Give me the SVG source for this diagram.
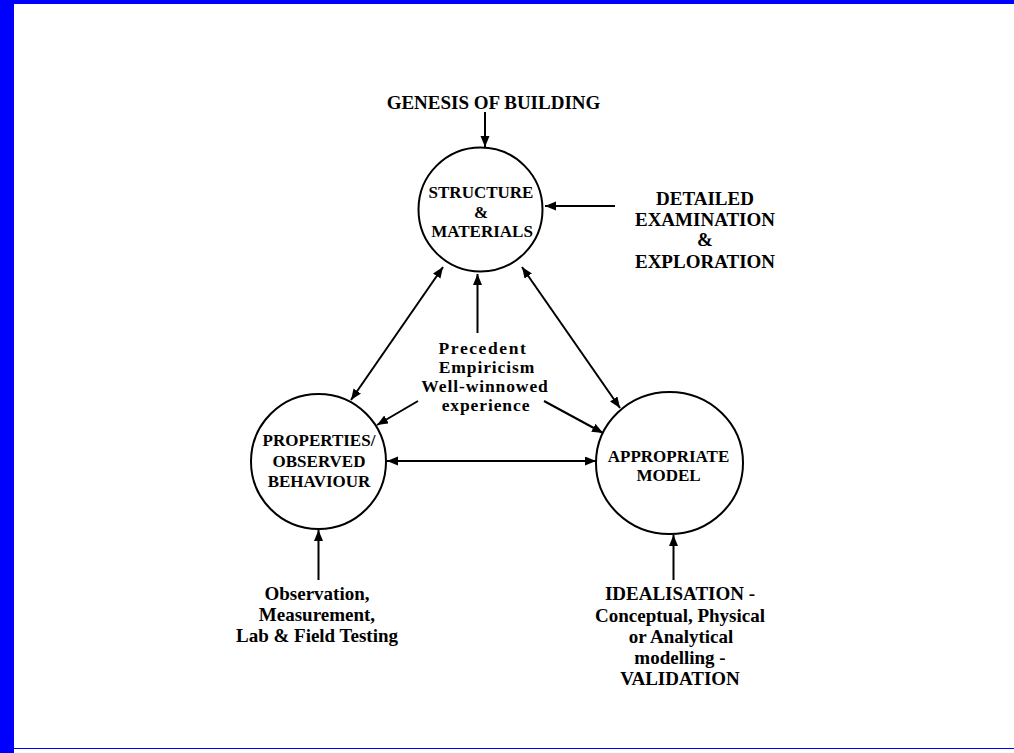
<svg xmlns="http://www.w3.org/2000/svg" width="1014" height="753" viewBox="0 0 1014 753">
<defs>
<marker id="ah" markerUnits="userSpaceOnUse" markerWidth="12" markerHeight="10" refX="11" refY="4.5" orient="auto-start-reverse">
<path d="M0,0 L11,4.5 L0,9 z" fill="#000"/>
</marker>
</defs>
<style>
.nd{fill:#fff;stroke:#000;stroke-width:2}
.t{font-family:"Liberation Serif","Times New Roman",serif;font-weight:bold;fill:#000;text-anchor:middle}
.nl{font-size:17px}
.el{font-size:19px}
.ml{font-size:17.5px;letter-spacing:0.9px}
.cn line{stroke:#000;stroke-width:2}
</style>
<rect x="0" y="0" width="1014" height="4" fill="#0000ff"/>
<rect x="0" y="0" width="14" height="753" fill="#0000ff"/>
<rect x="14" y="748" width="1000" height="1" fill="#0000ff"/>

<g id="connectors" class="cn">
<line x1="485" y1="112" x2="485" y2="147" marker-end="url(#ah)"/>
<line x1="615" y1="206" x2="545" y2="206" marker-end="url(#ah)"/>
<line x1="443" y1="267" x2="351" y2="400" marker-start="url(#ah)" marker-end="url(#ah)"/>
<line x1="522" y1="267" x2="620" y2="408" marker-start="url(#ah)" marker-end="url(#ah)"/>
<line x1="477.5" y1="333" x2="477.5" y2="274" marker-end="url(#ah)"/>
<line x1="418" y1="401" x2="377" y2="425" marker-end="url(#ah)"/>
<line x1="544" y1="401" x2="603" y2="433" marker-end="url(#ah)"/>
<line x1="387" y1="461" x2="596" y2="461" marker-start="url(#ah)" marker-end="url(#ah)"/>
<line x1="318.5" y1="580" x2="318.5" y2="530" marker-end="url(#ah)"/>
<line x1="673.5" y1="580" x2="673.5" y2="535" marker-end="url(#ah)"/>
</g>

<g id="structure">
<circle class="nd" cx="480.5" cy="209.5" r="62"/>
<text class="t nl" x="481" y="198">STRUCTURE</text>
<text class="t nl" x="481" y="218">&amp;</text>
<text class="t nl" x="482" y="236.5">MATERIALS</text>
</g>

<g id="properties">
<ellipse class="nd" cx="318.5" cy="461.5" rx="67.5" ry="67.5"/>
<text class="t nl" x="319" y="446">PROPERTIES/</text>
<text class="t nl" x="319" y="466.5">OBSERVED</text>
<text class="t nl" x="319" y="487">BEHAVIOUR</text>
</g>

<g id="model">
<ellipse class="nd" cx="669.5" cy="463" rx="73.5" ry="71"/>
<text class="t nl" x="668.5" y="461.5">APPROPRIATE</text>
<text class="t nl" x="668.5" y="480.5">MODEL</text>
</g>

<g id="genesis">
<text class="t el" x="493.5" y="109">GENESIS OF BUILDING</text>
</g>

<g id="detailed">
<text class="t el" x="705" y="205">DETAILED</text>
<text class="t el" x="705" y="226">EXAMINATION</text>
<text class="t el" x="705" y="246">&amp;</text>
<text class="t el" x="705" y="267.5">EXPLORATION</text>
</g>

<g id="precedent">
<text class="t ml" x="483" y="354" style="letter-spacing:1.6px">Precedent</text>
<text class="t ml" x="487" y="373">Empiricism</text>
<text class="t ml" x="485" y="392">Well-winnowed</text>
<text class="t ml" x="486" y="411">experience</text>
</g>

<g id="observation">
<text class="t el" x="317" y="600">Observation,</text>
<text class="t el" x="317" y="621">Measurement,</text>
<text class="t el" x="317" y="641.5">Lab &amp; Field Testing</text>
</g>

<g id="idealisation">
<text class="t el" x="680" y="600">IDEALISATION -</text>
<text class="t el" x="680" y="621.5">Conceptual, Physical</text>
<text class="t el" x="681" y="642.5">or Analytical</text>
<text class="t el" x="680" y="663.5">modelling -</text>
<text class="t el" x="680" y="684.5">VALIDATION</text>
</g>
</svg>
